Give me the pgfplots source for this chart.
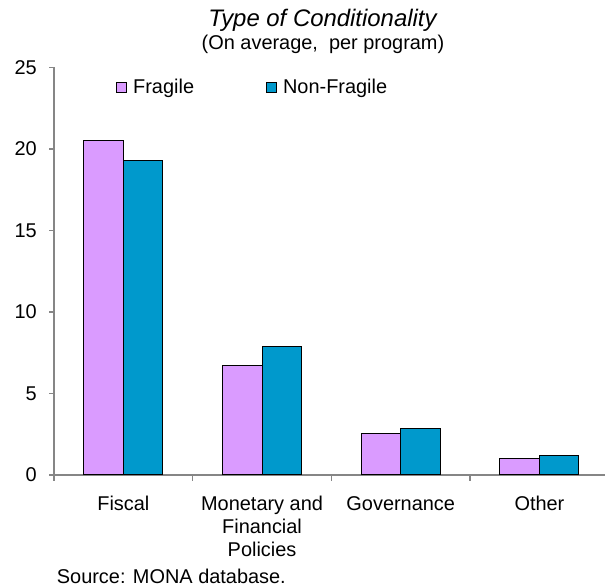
\documentclass[border=0pt]{standalone}
\usepackage{pgfplots}
\pgfplotsset{compat=1.18}
\usepackage{fontspec}
\setmainfont{Liberation Sans}
\definecolor{fragile}{RGB}{218,155,255}
\definecolor{nonfragile}{RGB}{0,153,204}
\definecolor{axisgray}{RGB}{134,134,134}
\begin{document}
\begin{tikzpicture}[x=1bp,y=1bp]
\path[use as bounding box] (0,0) rectangle (605,588);
\begin{axis}[
  at={(54bp,113bp)}, anchor=south west,
  scale only axis, width=551bp, height=407.5bp,
  xmin=-0.5, xmax=3.4726, ymin=0, ymax=25,
  axis x line=bottom, axis y line=left,
  axis line style={-, draw=axisgray, line width=1.5bp},
  ybar=0pt, bar width=39.5bp,
  ytick={0,5,...,25},
  xtick={0,1,2,3},
  xticklabels={Fiscal, {Monetary and\\Financial\\Policies}, Governance, Other},
  minor xtick={-0.5,0.5,1.5,2.5},
  tick align=outside,
  major tick length=5bp, minor tick length=6bp,
  tick style={draw=axisgray, line width=1.5bp},
  major x tick style={draw=none},
  /pgf/number format/assume math mode=true,
  tick label style={font=\fontsize{20}{23}\selectfont},
  yticklabel style={anchor=east, inner sep=0pt, xshift=-12bp},
  xticklabel style={align=center, anchor=north, inner sep=0pt, yshift=-16bp},
  legend style={at={(0.1125,0.952)}, anchor=west, draw=none, fill=none,
    font=\fontsize{20}{23}\selectfont, inner sep=0pt, nodes={inner sep=0pt},
    /tikz/every even column/.append style={column sep=72bp},
    /tikz/every odd column/.append style={column sep=6bp}},
  legend columns=2,
  clip=false,
]
\addplot[fill=fragile, draw=black, line width=1bp,
  legend image code/.code={\draw[fill=fragile, draw=black, line width=1bp] (0bp,-5bp) rectangle (10bp,5bp);}]
  coordinates {(0,20.55) (1,6.7) (2,2.55) (3,1.0)};
\addlegendentry{Fragile}
\addplot[fill=nonfragile, draw=black, line width=1bp,
  legend image code/.code={\draw[fill=nonfragile, draw=black, line width=1bp] (0bp,-5bp) rectangle (10bp,5bp);}]
  coordinates {(0,19.3) (1,7.9) (2,2.85) (3,1.22)};
\addlegendentry{Non-Fragile}
\end{axis}
\node[anchor=base, inner sep=0pt, font=\fontsize{24}{28}\selectfont\itshape] at (322.5,561.3) {Type of Conditionality};
\node[anchor=base, inner sep=0pt, font=\fontsize{20}{23}\selectfont] at (323,538.7) {(On average,\ \ per program)};
\node[anchor=base west, inner sep=0pt, font=\fontsize{20}{23}\selectfont] at (56.7,4.7) {Source: MONA database.};
\end{tikzpicture}
\end{document}
